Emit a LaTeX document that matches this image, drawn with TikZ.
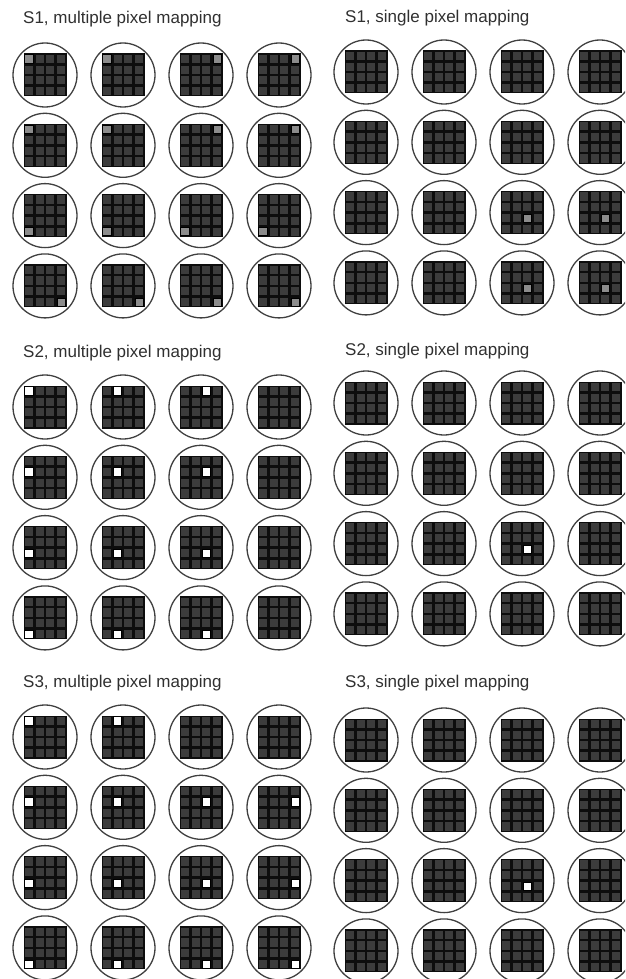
\documentclass[tikz,border=0pt]{standalone}
\usepackage{fontspec}
\setmainfont{Liberation Sans}

\definecolor{lensgray}{HTML}{404040}
\definecolor{cellgray}{HTML}{3C3C3C}
\definecolor{litgray}{HTML}{8C8C8C}
\definecolor{txtgray}{HTML}{303030}

\tikzset{
  lens/.style={circle, draw=lensgray, line width=1.3, minimum size=64, inner sep=0pt},
  title/.style={anchor=base west, inner sep=0pt, text=txtgray, font=\fontsize{17}{20}\selectfont},
}

% 4x4 pixel array centred on a lens node
\newcommand{\pixgrid}[1]{%
  \fill[black!95] ([shift={(-21.5,-21.5)}]#1.center) rectangle ++(43,43);
  \foreach \r in {0,...,3}
    \foreach \c in {0,...,3}
      \fill[cellgray] ([shift={({-21.5+10.75*\c+1.3},{-21.5+10.75*\r+1.3})}]#1.center) rectangle ++(8.15,8.15);
}

% one lit pixel: node, row, column, colour
\newcommand{\lit}[4]{%
  \fill[#4, draw=black, line width=0.8] ([shift={({-21.5+10.75*#3+1.3},{-21.5+10.75*#2+1.3})}]#1.center) rectangle ++(8.15,8.15);
}

% panel of 4x4 lenses: name, x0, y0
\newcommand{\lenspanel}[3]{%
  \foreach \j in {1,...,4}
    \foreach \i in {1,...,4} {
      \node[lens] (#1-\j\i) at ({#2+78*(\i-1)},{#3+70.3*(\j-1)}) {};
      \pixgrid{#1-\j\i}
    }
}

\begin{document}
\begin{tikzpicture}[x=1pt, y=-1pt]
  \clip (0,0) rectangle (625,979);
  \fill[white] (0,0) rectangle (625,979);

  % Titles
  \node[title] (t1m) at (23,24) {S1, multiple pixel mapping};
  \node[title] (t1s) at (345,22.7) {S1, single pixel mapping};
  \node[title] (t2m) at (23,357.3) {S2, multiple pixel mapping};
  \node[title] (t2s) at (345,355) {S2, single pixel mapping};
  \node[title] (t3m) at (23,687.3) {S3, multiple pixel mapping};
  \node[title] (t3s) at (345,687) {S3, single pixel mapping};

  % Lenses
  \lenspanel{s1m}{45}{75}
  \lenspanel{s1s}{366}{72}
  \lenspanel{s2m}{45}{407}
  \lenspanel{s2s}{366}{403}
  \lenspanel{s3m}{45}{737}
  \lenspanel{s3s}{366}{740}

  % S1 lit pixels
  \foreach \n/\r/\c in {11/0/0, 12/0/0, 13/0/3, 14/0/3, 21/0/0, 22/0/0, 23/0/3, 24/0/3,
                         31/3/0, 32/3/0, 33/3/0, 34/3/0, 41/3/3, 42/3/3, 43/3/3, 44/3/3}
    \lit{s1m-\n}{\r}{\c}{litgray};
  \foreach \n in {33, 34, 43, 44}
    \lit{s1s-\n}{2}{2}{litgray};

  % S2 lit pixels
  \foreach \n/\r/\c in {11/0/0, 12/0/1, 13/0/2, 21/1/0, 22/1/1, 23/1/2,
                         31/2/0, 32/2/1, 33/2/2, 41/3/0, 42/3/1, 43/3/2}
    \lit{s2m-\n}{\r}{\c}{white};
  \lit{s2s-33}{2}{2}{white};

  % S3 lit pixels
  \foreach \n/\r/\c in {11/0/0, 12/0/1, 21/1/0, 22/1/1, 23/1/2, 24/1/3,
                         31/2/0, 32/2/1, 33/2/2, 34/2/3, 41/3/0, 42/3/1, 43/3/2, 44/3/3}
    \lit{s3m-\n}{\r}{\c}{white};
  \lit{s3s-33}{2}{2}{white};
\end{tikzpicture}
\end{document}
